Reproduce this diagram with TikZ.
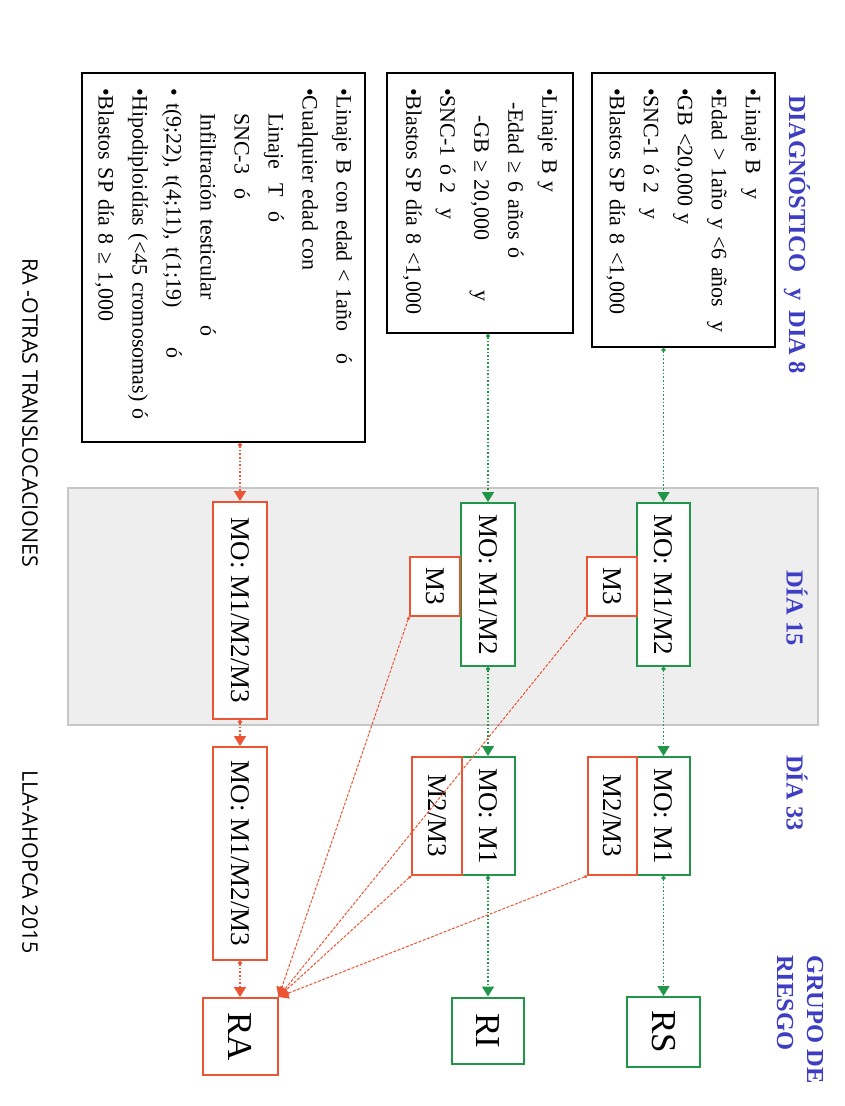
\documentclass[tikz,border=0pt]{standalone}
\usepackage{fontspec}
\setmainfont{Liberation Serif}
\newfontfamily\footfont{Open Sans}
\usepackage{xcolor}
\usetikzlibrary{arrows.meta, positioning}
\definecolor{hdBlue}{RGB}{62,62,196}
\definecolor{okGreen}{RGB}{34,150,72}
\definecolor{hiRed}{RGB}{236,84,52}
\definecolor{bandGray}{RGB}{238,238,238}
\tikzset{
    critBox/.style={draw=black, line width=2pt, fill=white, align=left, inner ysep=0pt, inner xsep=15pt, font=\fontsize{22}{34}\selectfont},
    moGreen/.style={draw=okGreen, line width=2pt, fill=white, inner sep=0pt, font=\fontsize{27}{30}\selectfont},
    moRed/.style={moGreen, draw=hiRed},
    riskG/.style={draw=okGreen, line width=2pt, fill=white, inner sep=0pt, font=\fontsize{35}{38}\selectfont},
    riskR/.style={riskG, draw=hiRed},
    hdText/.style={text=hdBlue, font=\fontsize{24.5}{24}\selectfont\bfseries, anchor=west, inner sep=0pt, align=left},
    footText/.style={font=\footfont\fontsize{21.5}{24}\selectfont, inner sep=0pt},
    flowG/.style={okGreen, line width=1.6pt, dotted, {Circle[length=4pt]}-{Triangle[length=10pt, width=12pt]}},
    flowR/.style={flowG, hiRed},
    toRA/.style={hiRed, line width=1pt, dash pattern=on 3pt off 1.5pt, {Circle[length=3pt]}-{Triangle[length=10pt, width=11pt]}}
}

\begin{document}
\begin{tikzpicture}[x=1pt, y=1pt, rotate=-90, transform shape]
    \useasboundingbox (0,0) rectangle (1106,845);
    % gray band of day 15
    \draw[draw=black!22, line width=2pt, fill=bandGray] (488,68) rectangle (725,818);

    % headers
    \node[hdText] (hdDiag) at (95,797) {DIAGNÓSTICO\hspace{16pt}y\hspace{10pt}DIA 8};
    \node[hdText] (hdD15) at (570,797) {DÍA 15};
    \node[hdText] (hdD33) at (755,797) {DÍA 33};
    \node[hdText] (hdGrupo) at (955,800) {GRUPO DE\\[6pt]RIESGO};

    % criteria at diagnosis
    \node[critBox, text width=244pt, minimum width=274pt, minimum height=183pt] (diag1) at (210,683.5) {%
        •Linaje B\ \ y\\
        •Edad > 1año y <6 años \hfill y\\
        •GB <20,000 y\\
        •SNC-1 ó 2\ \ y\\
        •Blastos SP día 8 <1,000};
    \node[critBox, text width=230pt, minimum width=260pt, minimum height=186pt] (diag2) at (203,480) {%
        •Linaje B y\\
        \hspace*{14pt}-Edad ≥ 6 años ó\\
        \hspace*{27pt}-GB ≥ 20,000\hspace{50pt}y\\
        •SNC-1 ó 2\ \ y\\
        •Blastos SP día 8 <1,000};
    \node[critBox, text width=339pt, minimum width=369pt, minimum height=283pt] (diag3) at (257.5,223.5) {%
        •Linaje B con edad < 1año\hspace{22pt}ó\\
        •Cualquier edad con\\
        \hspace*{25pt}Linaje\ \ T\ \ ó\\
        \hspace*{25pt}SNC-3\ \ ó\\
        \hspace*{25pt}Infiltración testicular\hspace{26pt}ó\\
        • t(9;22), t(4;11), t(1;19)\hspace{40pt}ó\\
        •Hipodiploidías (<45 cromosomas) ó\\
        •Blastos SP día 8 ≥ 1,000};

    % day 15
    \node[moGreen, minimum width=163pt, minimum height=53pt] (mo15a) at (584.5,663.5) {MO: M1/M2};
    \node[moRed, minimum width=59pt, minimum height=50pt] (m3a) at (586.5,612) {M3};
    \node[moGreen, minimum width=163pt, minimum height=54pt] (mo15b) at (584.5,488) {MO: M1/M2};
    \node[moRed, minimum width=59pt, minimum height=50pt] (m3b) at (586.5,435) {M3};
    \node[moRed, minimum width=217pt, minimum height=54pt] (mo15c) at (610.5,240) {MO: M1/M2/M3};

    % day 33
    \node[moGreen, minimum width=118pt, minimum height=53pt] (mo33a) at (816,663.5) {MO: M1};
    \node[moRed, minimum width=118pt, minimum height=49pt] (m23a) at (816,612.5) {M2/M3};
    \node[moGreen, minimum width=118pt, minimum height=53pt] (mo33b) at (816,488) {MO: M1};
    \node[moRed, minimum width=118pt, minimum height=50pt] (m23b) at (816,437) {M2/M3};
    \node[moRed, minimum width=213pt, minimum height=54pt] (mo33c) at (853.5,240) {MO: M1/M2/M3};

    % risk group
    \node[riskG, minimum width=70pt, minimum height=73pt] (rs) at (1032,663.5) {RS};
    \node[riskG, minimum width=66pt, minimum height=72pt] (ri) at (1030.5,488) {RI};
    \node[riskR, minimum width=77pt, minimum height=75pt] (ra) at (1036.5,240) {RA};

    % flow
    \draw[flowG] (diag1.east |- mo15a.west) -- (mo15a.west);
    \draw[flowG] (mo15a) -- (mo33a);
    \draw[flowG] (mo33a.east) -- (rs.west);
    \draw[flowG] (diag2.east |- mo15b.west) -- (mo15b.west);
    \draw[flowG] (mo15b) -- (mo33b);
    \draw[flowG] (mo33b.east) -- (ri.west);
    \draw[flowR] (diag3.east |- mo15c.west) -- (mo15c.west);
    \draw[flowR] (mo15c) -- (mo33c);
    \draw[flowR] (mo33c.east) -- (ra.west);
    \foreach \src in {m3a, m3b, m23a, m23b}
        \draw[toRA] (\src.south east) -- (ra.north west);

    \node[footText] (ftTitle) at (413,30) {RA -OTRAS TRANSLOCACIONES};
    \node[footText] (ftRef) at (862,30) {LLA-AHOPCA 2015};
\end{tikzpicture}
\end{document}
